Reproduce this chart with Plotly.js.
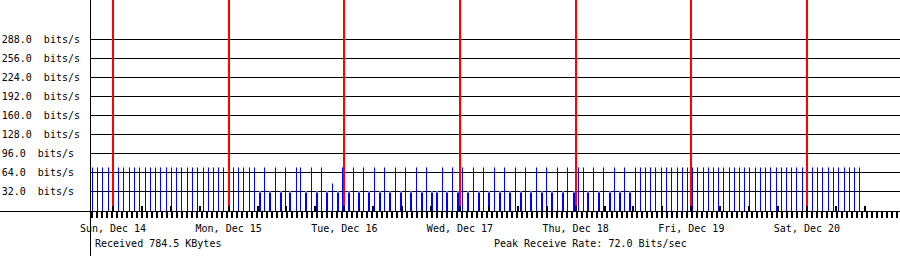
<!DOCTYPE html>
<html>
<head>
<meta charset="utf-8">
<script src="https://cdn.plot.ly/plotly-3.0.1.min.js"></script>
<style>html,body{margin:0;padding:0;background:#fff;}#chart{width:900px;height:256px;}</style>
</head>
<body>
<div id="chart"></div>
<script>
// ---- data (hours relative to Sun, Dec 14 00:00) ----
const dayHours = [0, 24, 48, 72, 96, 120, 144];
const dayLabels = ['Sun, Dec 14', 'Mon, Dec 15', 'Tue, Dec 16', 'Wed, Dec 17', 'Thu, Dec 18', 'Fri, Dec 19', 'Sat, Dec 20'];
const yTickValues = [32, 64, 96, 128, 160, 192, 224, 256, 288];
const yUnit = 'bits/s';

const spikeHours = [
  -4.358, -3.258, -2.137, -1.038, 0.062, 1.100, 2.220, 3.320, 4.420, 5.541, 6.640, 7.678, 8.778, 9.898,
  10.998, 12.098, 13.218, 14.256, 15.356, 16.456, 17.576, 18.676, 19.776, 20.813, 21.851, 22.930, 23.926,
  24.901, 26.001, 27.122, 28.284, 29.321,
  31.396, 33.679, 35.754, 38.036, 38.804, 41.149, 43.224, 45.507, 47.582, 49.865, 51.940, 54.160, 56.339,
  58.518, 60.697, 62.938, 65.055, 68.313, 70.450, 72.587, 74.808, 76.883, 79.103, 81.199, 83.482, 85.557,
  87.819, 89.998, 92.176, 94.314, 96.493, 97.530, 99.647, 101.784, 104.005, 106.080, 108.362,
  109.421, 110.458, 111.496, 112.637, 113.758, 114.816, 115.937, 117.036, 118.115, 119.215, 120.149,
  121.353, 122.432, 123.532, 124.611, 125.690, 126.748, 127.827, 128.927, 130.006, 131.044, 132.081,
  133.222, 134.302, 135.443, 136.481, 137.580, 138.618, 139.718, 140.838, 141.897, 142.976, 144.012,
  145.112, 146.233, 147.332, 148.411, 149.511, 150.611, 151.732, 152.832, 153.911, 154.969
];
const spikeValues = [
  72, 72, 72, 72, 72, 72, 72, 72, 72, 72, 72, 72, 72, 72,
  72, 72, 72, 72, 72, 72, 72, 72, 72, 72, 72, 72, 72,
  72, 72, 72, 72, 72,
  72, 72, 72, 72, 72, 72, 72, 45, 72, 72, 72, 72, 72,
  72, 72, 72, 72, 72, 72, 72, 72, 72, 72, 72, 72, 72,
  72, 72, 72, 72, 72, 72, 72, 72, 72, 72, 72,
  72, 72, 72, 72, 72, 72, 72, 72, 72, 72, 72,
  72, 72, 72, 72, 72, 72, 72, 72, 72, 72, 72,
  72, 72, 72, 72, 72, 72, 72, 72, 72, 72, 72,
  72, 72, 72, 72, 72, 72, 72, 72, 72, 72
];

const lowHours = [
  30.401, 32.579, 34.758, 36.729, 39.946, 42.332, 44.407, 46.690, 48.869, 51.048, 53.123, 55.302,
  57.481, 59.659, 61.838, 64.017, 66.196, 67.234, 69.309, 71.591, 73.666, 75.949, 78.024, 80.307,
  82.382, 84.561, 86.740, 88.919, 90.994, 93.276, 95.559, 98.568, 100.851, 103.030, 105.105, 107.180
];
const lowValues = [
  31, 31, 31, 31, 31, 31, 31, 31, 31, 31, 31, 31,
  31, 31, 31, 31, 31, 31, 31, 31, 31, 31, 31, 31,
  31, 31, 31, 31, 31, 31, 31, 31, 31, 31, 31, 31
];

const sixHourHours = [0, 6, 12, 18, 24, 30, 36, 42, 48, 54, 60, 66, 72, 78, 84, 90, 96, 102, 108, 114, 120, 126, 132, 138, 144, 150, 156];
const sixHourValues = [9, 9, 9, 9, 9, 9, 9, 9, 9, 9, 9, 9, 9, 9, 9, 9, 9, 9, 9, 9, 9, 9, 9, 9, 9, 9, 9];

const receivedText = 'Received 784.5 KBytes';
const peakText = 'Peak Receive Rate: 72.0 Bits/sec';

// ---- geometry / style ----
const W = 900, H = 256, ML = 90, MB = 38;
const PW = W - ML, PH = H - MB;
const PXH = 4.819;                // pixels per hour
const PXV = 0.5966;               // pixels per bit/s
const ZERO_PX = 211;              // pixel row of zero (from top)
const xMin = -23 / PXH;
const xRange = [xMin, xMin + PW / PXH];
const yRange = [-(PH - ZERO_PX) / PXV, ZERO_PX / PXV];
const onePx = 1 / PXH;
const capH = 1 / PXV * 1.05;
const mono = 'DejaVu Sans Mono, Liberation Mono, monospace';

const blue = 'rgba(0,0,255,0.999)';
const cap = 'rgba(110,110,255,0.999)';
const red = 'rgba(255,0,0,0.999)';
const black = 'rgba(0,0,0,0.999)';

function barTrace(x, base, y, w, color) {
  return {
    type: 'bar', x: x, y: y, base: base, width: x.map(() => w),
    marker: {color: color, line: {width: 0}}, hoverinfo: 'skip', showlegend: false
  };
}

const topVal = yRange[1];
const traces = [
  barTrace(spikeHours, spikeHours.map(() => 0), spikeValues, onePx, blue),
  barTrace(spikeHours, spikeValues, spikeValues.map(() => capH), onePx, cap),
  barTrace(lowHours, lowHours.map(() => 0), lowValues, 2 * onePx, blue),
  barTrace(lowHours, lowValues, lowValues.map(() => capH), 2 * onePx, cap),
  barTrace(dayHours, dayHours.map(() => 0), dayHours.map(() => topVal), 2 * onePx, red),
  barTrace(sixHourHours, sixHourHours.map(() => 0), sixHourValues, 2 * onePx, black)
];

function label(v) {
  let s = v.toFixed(1) + '\u00a0\u00a0' + yUnit;
  while (s.length < 13) s += '\u00a0';
  return s;
}

const layout = {
  width: W, height: H,
  margin: {l: ML, r: 0, t: 0, b: MB, pad: 0},
  paper_bgcolor: '#ffffff', plot_bgcolor: '#ffffff',
  barmode: 'overlay', bargap: 0, bargroupgap: 0,
  showlegend: false,
  font: {family: mono, size: 10, color: '#000'},
  xaxis: {
    range: xRange, type: 'linear', fixedrange: true,
    tickmode: 'array', tickvals: dayHours, ticktext: dayLabels,
    ticks: '', showgrid: false, zeroline: false, showline: false,
    anchor: 'free', position: (PH - ZERO_PX) / PH,
    tickfont: {family: mono, size: 10, color: '#000'},
    ticklabelstandoff: 10,
    minor: {tickmode: 'linear', tick0: (92.3 - 113) / PXH, dtick: 5.0 / PXH,
            ticks: 'outside', ticklen: 6, tickwidth: 2, tickcolor: '#000', showgrid: false}
  },
  yaxis: {
    range: yRange, type: 'linear', fixedrange: true,
    tickmode: 'array', tickvals: yTickValues, ticktext: yTickValues.map(label),
    ticks: '', showgrid: true, gridcolor: '#000', gridwidth: 1,
    zeroline: false, showline: false,
    tickfont: {family: mono, size: 10, color: '#000'},
    ticklabelstandoff: 9
  },
  shapes: [
    {type: 'line', xref: 'paper', yref: 'paper', x0: -ML / PW, x1: 1,
     y0: (PH - ZERO_PX - 0.5) / PH, y1: (PH - ZERO_PX - 0.5) / PH, line: {color: '#000', width: 1}},
    {type: 'line', xref: 'paper', yref: 'paper', x0: 0.5 / PW, x1: 0.5 / PW,
     y0: -MB / PH, y1: 1, line: {color: '#000', width: 1}}
  ],
  annotations: [
    {text: receivedText, xref: 'paper', yref: 'paper', x: (93 - ML) / PW, y: (PH - 243) / PH,
     xanchor: 'left', yanchor: 'middle', showarrow: false, font: {family: mono, size: 10, color: '#000'}},
    {text: peakText, xref: 'paper', yref: 'paper', x: (492 - ML) / PW, y: (PH - 243) / PH,
     xanchor: 'left', yanchor: 'middle', showarrow: false, font: {family: mono, size: 10, color: '#000'}}
  ]
};

Plotly.newPlot('chart', traces, layout, {displayModeBar: false, responsive: false});
</script>
</body>
</html>
